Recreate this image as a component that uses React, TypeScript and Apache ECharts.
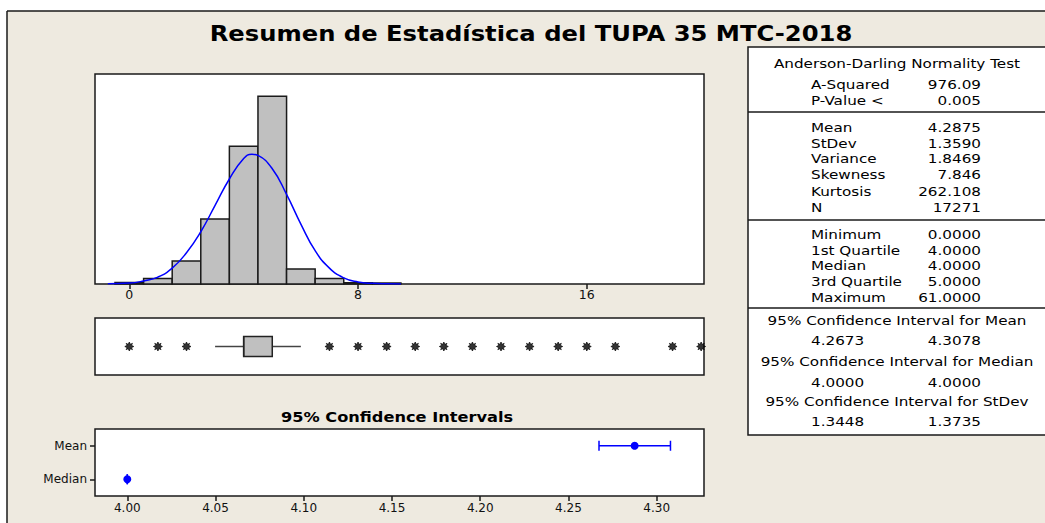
import React, { useEffect, useRef } from "react";
import * as echarts from "echarts";

// ---------- data ----------
const binLow = [-0.5, 0.5, 1.5, 2.5, 3.5, 4.5, 5.5, 6.5, 7.5, 8.5];
const binHigh = [0.5, 1.5, 2.5, 3.5, 4.5, 5.5, 6.5, 7.5, 8.5, 9.5];
const binCount = [58, 218, 897, 2535, 5380, 7330, 585, 218, 50, 39];

const curveX = [-0.75, 0, 0.5, 1, 1.5, 2, 2.5, 3, 3.5, 4, 4.29, 4.5, 5, 5.5, 6, 6.5, 7, 7.5, 8, 8.5, 9, 9.5];
const curveY = [10, 35, 120, 270, 620, 1220, 2040, 3070, 4100, 4900, 5070, 5020, 4500, 3500, 2340, 1300, 620, 240, 80, 25, 8, 2];

const histTicks = [0, 8, 16];

// boxplot: [whisker low, Q1, median, Q3, whisker high]
const boxStats = [3, 4, 4, 5, 6];
const outliers = [0, 1, 2, 7, 8, 9, 10, 11, 12, 13, 14, 15, 16, 17, 19, 20];

const ciCategories = ["Median", "Mean"];
const ciLow = [4.0, 4.2673];
const ciHigh = [4.0, 4.3078];
const ciEstimate = [4.0, 4.2875];
const ciTicks = [4.0, 4.05, 4.1, 4.15, 4.2, 4.25, 4.3];

const titleText = "Resumen de Estadística del TUPA 35 MTC-2018";
const ciTitleText = "95% Confidence Intervals";

const adTitle = "Anderson-Darling Normality Test";
const adLabels = ["A-Squared", "P-Value <"];
const adValues = ["976.09", "0.005"];
const momentLabels = ["Mean", "StDev", "Variance", "Skewness", "Kurtosis", "N"];
const momentValues = ["4.2875", "1.3590", "1.8469", "7.846", "262.108", "17271"];
const quartileLabels = ["Minimum", "1st Quartile", "Median", "3rd Quartile", "Maximum"];
const quartileValues = ["0.0000", "4.0000", "4.0000", "5.0000", "61.0000"];
const ciTitles = [
  "95% Confidence Interval for Mean",
  "95% Confidence Interval for Median",
  "95% Confidence Interval for StDev",
];
const ciLowText = ["4.2673", "4.0000", "1.3448"];
const ciHighText = ["4.3078", "4.0000", "1.3735"];

// ---------- styling ----------
const FONT = "'DejaVu Sans', Verdana, sans-serif";
const BG = "#EEEAE0";
const DARK = "#1a1a1a";
const BLUE = "#0000FF";
const STAR =
  "path://M10,5 L7.4,6.3 L8.54,8.54 L6.3,7.4 L5,10 L3.7,7.4 L1.46,8.54 L2.6,6.3 L0,5 L2.6,3.7 L1.46,1.46 L3.7,2.6 L5,0 L6.3,2.6 L8.54,1.46 L7.4,3.7 Z";

export default function App() {
  const ref = useRef<HTMLDivElement>(null);

  useEffect(() => {
    if (!ref.current) return;
    const chart = echarts.init(ref.current, undefined, { renderer: "svg" });

    const txt = (
      text: string,
      x: number,
      y: number,
      align: string,
      size = 13,
      bold = false,
      sx = 1.17
    ) => ({
      type: "text",
      silent: true,
      x,
      y,
      scaleX: sx,
      style: {
        text,
        x: 0,
        y: 0,
        fill: "#000",
        fontFamily: FONT,
        fontSize: size,
        fontWeight: bold ? "bold" : "normal",
        textAlign: align,
        textVerticalAlign: "middle",
      },
    });
    const hline = (y: number, x1: number, x2: number) => ({
      type: "line",
      silent: true,
      shape: { x1, y1: y, x2, y2: y },
      style: { stroke: DARK, lineWidth: 1.5 },
    });

    const tableLeft = 748;
    const tableRight = 1047;
    const labX = 811;
    const valX = 981;
    const centerX = 897;

    const graphics: any[] = [
      { type: "rect", silent: true, shape: { x: 0, y: 0, width: 1045, height: 11 }, style: { fill: "#fff" } },
      { type: "rect", silent: true, shape: { x: 0, y: 0, width: 7, height: 523 }, style: { fill: "#fff" } },
      hline(11, 7, 1045),
      { type: "line", silent: true, shape: { x1: 7, y1: 11, x2: 7, y2: 523 }, style: { stroke: DARK, lineWidth: 1.5 } },
      txt(titleText, 531, 34, "center", 21, true, 1.155),
      txt(ciTitleText, 397, 417, "center", 13.5, true, 1.2),
      {
        type: "rect",
        silent: true,
        shape: { x: tableLeft, y: 47, width: tableRight - tableLeft, height: 388 },
        style: { fill: "#fff", stroke: DARK, lineWidth: 1.5 },
      },
      hline(112, tableLeft, tableRight),
      hline(220, tableLeft, tableRight),
      hline(308, tableLeft, tableRight),
      txt(adTitle, centerX, 63, "center"),
    ];
    const adY = [84, 100];
    adLabels.forEach((l, i) => {
      graphics.push(txt(l, labX, adY[i], "left"));
      graphics.push(txt(adValues[i], valX, adY[i], "right"));
    });
    const momY = [127, 143, 158, 174, 191, 207];
    momentLabels.forEach((l, i) => {
      graphics.push(txt(l, labX, momY[i], "left"));
      graphics.push(txt(momentValues[i], valX, momY[i], "right"));
    });
    const qY = [234, 250, 265, 281, 297];
    quartileLabels.forEach((l, i) => {
      graphics.push(txt(l, labX, qY[i], "left"));
      graphics.push(txt(quartileValues[i], valX, qY[i], "right"));
    });
    const ciTY = [320, 361, 401];
    const ciVY = [340, 382, 421];
    ciTitles.forEach((t, i) => {
      graphics.push(txt(t, centerX, ciTY[i], "center"));
      graphics.push(txt(ciLowText[i], labX, ciVY[i], "left"));
      graphics.push(txt(ciHighText[i], valX, ciVY[i], "right"));
    });

    const gridBase = {
      show: true,
      borderColor: DARK,
      borderWidth: 1.5,
      backgroundColor: "#fff",
      containLabel: false,
    };

    const option: any = {
      animation: false,
      backgroundColor: BG,
      textStyle: { fontFamily: FONT },
      grid: [
        { ...gridBase, left: 95, top: 74, width: 609, height: 210 },
        { ...gridBase, left: 95, top: 318, width: 609, height: 57 },
        { ...gridBase, left: 95, top: 429, width: 609, height: 67 },
      ],
      xAxis: [
        {
          type: "value",
          gridIndex: 0,
          min: -1.2,
          max: 20.1,
          axisLine: { show: false },
          splitLine: { show: false },
          axisTick: { show: true, customValues: histTicks, length: 5, lineStyle: { color: DARK, width: 1.5 } },
          axisLabel: { show: true, customValues: histTicks, fontSize: 12.5, color: "#111", margin: 4, fontFamily: FONT },
        },
        {
          type: "value",
          gridIndex: 1,
          min: -1.2,
          max: 20.1,
          show: false,
        },
        {
          type: "value",
          gridIndex: 2,
          min: 3.9817,
          max: 4.3268,
          axisLine: { show: false },
          splitLine: { show: false },
          axisTick: { show: true, customValues: ciTicks, length: 5, lineStyle: { color: DARK, width: 1.5 } },
          axisLabel: {
            show: true,
            customValues: ciTicks,
            fontSize: 12,
            color: "#111",
            margin: 6,
            fontFamily: FONT,
            formatter: (v: number) => v.toFixed(2),
          },
        },
      ],
      yAxis: [
        { type: "value", gridIndex: 0, min: 0, max: 8200, show: false },
        { type: "value", gridIndex: 1, min: -1, max: 1, show: false },
        {
          type: "category",
          gridIndex: 2,
          data: ciCategories,
          axisLine: { show: false },
          axisTick: { show: true, alignWithLabel: true, length: 5, lineStyle: { color: DARK, width: 1.5 } },
          axisLabel: { fontSize: 12, color: "#111", margin: 8, fontFamily: FONT },
          splitLine: { show: false },
        },
      ],
      series: [
        {
          type: "custom",
          xAxisIndex: 0,
          yAxisIndex: 0,
          data: binLow.map((lo, i) => [lo, binHigh[i], binCount[i]]),
          encode: { x: [0, 1], y: 2 },
          renderItem: (_p: any, api: any) => {
            const a = api.coord([api.value(0), api.value(2)]);
            const b = api.coord([api.value(1), 0]);
            return {
              type: "rect",
              shape: { x: a[0], y: a[1], width: b[0] - a[0], height: b[1] - a[1] },
              style: { fill: "#C0C0C0", stroke: DARK, lineWidth: 1.5 },
            };
          },
        },
        {
          type: "line",
          xAxisIndex: 0,
          yAxisIndex: 0,
          data: curveX.map((x, i) => [x, curveY[i]]),
          smooth: true,
          showSymbol: false,
          symbol: "none",
          lineStyle: { color: BLUE, width: 1.5 },
          z: 5,
        },
        {
          type: "custom",
          xAxisIndex: 1,
          yAxisIndex: 1,
          data: [[...boxStats, 0]],
          encode: { x: [0, 1, 2, 3, 4], y: 5 },
          renderItem: (_p: any, api: any) => {
            const p = [0, 1, 2, 3, 4].map((k) => api.coord([api.value(k), api.value(5)]));
            const cy = p[0][1];
            const h = 10;
            const st = { stroke: "#444", lineWidth: 1.5 };
            return {
              type: "group",
              children: [
                { type: "line", shape: { x1: p[0][0], y1: cy, x2: p[1][0], y2: cy }, style: st },
                { type: "line", shape: { x1: p[3][0], y1: cy, x2: p[4][0], y2: cy }, style: st },
                {
                  type: "rect",
                  shape: { x: p[1][0], y: cy - h, width: p[3][0] - p[1][0], height: 2 * h },
                  style: { fill: "#C0C0C0", stroke: "#222", lineWidth: 1.5 },
                },
                { type: "line", shape: { x1: p[2][0], y1: cy - h, x2: p[2][0], y2: cy + h }, style: { stroke: "#222", lineWidth: 1.5 } },
              ],
            };
          },
        },
        {
          type: "scatter",
          xAxisIndex: 1,
          yAxisIndex: 1,
          data: outliers.map((v) => [v, 0]),
          symbol: STAR,
          symbolSize: 9,
          itemStyle: { color: "#000", borderColor: "#000", borderWidth: 0.8 },
        },
        {
          type: "custom",
          xAxisIndex: 2,
          yAxisIndex: 2,
          data: ciCategories.map((_c, i) => [i, ciLow[i], ciHigh[i], ciEstimate[i]]),
          encode: { y: 0, x: [1, 2, 3] },
          renderItem: (_p: any, api: any) => {
            const cat = api.value(0);
            const lo = api.coord([api.value(1), cat]);
            const hi = api.coord([api.value(2), cat]);
            const est = api.coord([api.value(3), cat]);
            const cy = lo[1];
            const cap = 5;
            const st = { stroke: BLUE, lineWidth: 1.5 };
            return {
              type: "group",
              children: [
                { type: "line", shape: { x1: lo[0], y1: cy, x2: hi[0], y2: cy }, style: st },
                { type: "line", shape: { x1: lo[0], y1: cy - cap, x2: lo[0], y2: cy + cap }, style: st },
                { type: "line", shape: { x1: hi[0], y1: cy - cap, x2: hi[0], y2: cy + cap }, style: st },
                { type: "circle", shape: { cx: est[0], cy, r: 4 }, style: { fill: BLUE } },
              ],
            };
          },
        },
      ],
      graphic: graphics,
    };

    chart.setOption(option);
    return () => chart.dispose();
  }, []);

  return (
    <div
      ref={ref}
      style={{ position: "fixed", left: 0, top: 0, width: 1045, height: 523 }}
    />
  );
}
